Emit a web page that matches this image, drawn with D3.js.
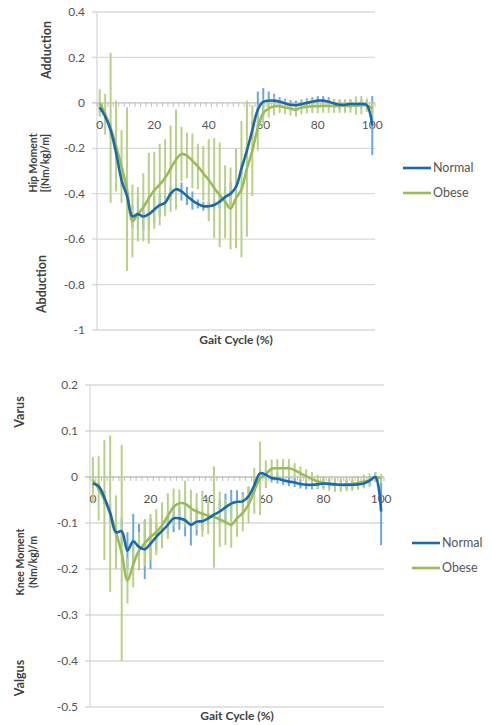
<!DOCTYPE html>
<html>
<head>
<meta charset="utf-8">
<script src="https://cdn.jsdelivr.net/npm/d3@7"></script>
<style>
  body { margin: 0; background: #fff; }
  svg { display: block; font-family: Lato, "Open Sans", "Liberation Sans", sans-serif; }
</style>
</head>
<body>
<svg id="chart" width="492" height="725"></svg>
<script>
// Gait cycle categories (% of stride)
const gaitPct = [0, 2, 4, 6, 8, 10, 12, 14, 16, 18, 20, 22, 24, 26, 28, 30, 32, 34, 36, 38,
  40, 42, 44, 46, 48, 50, 52, 54, 56, 58, 60, 62, 64, 66, 68, 70, 72, 74, 76, 78,
  80, 82, 84, 86, 88, 90, 92, 94, 96, 98, 100];
const xTickLabels = [0, 20, 40, 60, 80, 100];
const hipTicks = [0.4, 0.2, 0, -0.2, -0.4, -0.6, -0.8, -1];
const kneeTicks = [0.2, 0.1, 0, -0.1, -0.2, -0.3, -0.4, -0.5];
const seriesNames = ["Normal", "Obese"];

// Hip frontal-plane moment, (Nm/kg)/m — mean and SD
const hipNormal = [-0.02, -0.06, -0.12, -0.22, -0.34, -0.41, -0.50, -0.49, -0.50, -0.49,
  -0.47, -0.45, -0.44, -0.40, -0.38, -0.39, -0.41, -0.43, -0.445, -0.455,
  -0.455, -0.45, -0.435, -0.415, -0.40, -0.37, -0.29, -0.21, -0.12, -0.03,
  0.005, 0.01, 0.01, 0.005, -0.002, -0.008, -0.01, -0.005, 0.0, 0.005,
  0.01, 0.01, 0.005, -0.003, -0.008, -0.008, -0.005, -0.005, -0.005, -0.01,
  -0.10];
const hipNormalSD = [0.02, 0.02, 0.03, 0.03, 0.03, 0.04, 0.05, 0.07, 0.06, 0.07,
  0.06, 0.05, 0.03, 0.03, 0.04, 0.04, 0.04, 0.04, 0.02, 0.02,
  0.02, 0.02, 0.03, 0.05, 0.05, 0.04, 0.03, 0.03, 0.04, 0.08,
  0.06, 0.04, 0.03, 0.02, 0.02, 0.02, 0.02, 0.02, 0.02, 0.02,
  0.02, 0.02, 0.02, 0.02, 0.02, 0.02, 0.02, 0.02, 0.02, 0.02,
  0.13];
const hipObese = [0.0, -0.05, -0.11, -0.19, -0.28, -0.38, -0.52, -0.49, -0.46, -0.42,
  -0.385, -0.36, -0.33, -0.29, -0.25, -0.225, -0.232, -0.255, -0.28, -0.31,
  -0.34, -0.375, -0.405, -0.435, -0.465, -0.42, -0.38, -0.29, -0.21, -0.11,
  -0.045, -0.025, -0.015, -0.015, -0.02, -0.025, -0.03, -0.02, -0.017, -0.015,
  -0.015, -0.014, -0.014, -0.014, -0.014, -0.014, -0.013, -0.012, -0.01, -0.01,
  -0.025];
const hipObeseSD = [0.06, 0.09, 0.33, 0.2, 0.16, 0.36, 0.16, 0.12, 0.15, 0.2,
  0.17, 0.18, 0.17, 0.19, 0.22, 0.12, 0.1, 0.12, 0.1, 0.12,
  0.18, 0.22, 0.23, 0.16, 0.18, 0.22, 0.3, 0.3, 0.2, 0.1,
  0.06, 0.04, 0.04, 0.03, 0.03, 0.03, 0.03, 0.03, 0.03, 0.03,
  0.03, 0.03, 0.03, 0.03, 0.03, 0.03, 0.03, 0.04, 0.04, 0.03,
  0.03];

// Knee frontal-plane moment, (Nm/kg)/m — mean and SD
const kneeNormal = [-0.014, -0.02, -0.045, -0.078, -0.12, -0.118, -0.16, -0.14, -0.152, -0.157,
  -0.145, -0.13, -0.117, -0.104, -0.09, -0.09, -0.094, -0.104, -0.097, -0.096,
  -0.09, -0.082, -0.075, -0.066, -0.058, -0.054, -0.053, -0.042, -0.018, 0.008,
  0.005, -0.002, -0.004, -0.007, -0.01, -0.012, -0.015, -0.017, -0.017, -0.016,
  -0.014, -0.015, -0.016, -0.017, -0.017, -0.017, -0.016, -0.014, -0.008, 0.0,
  -0.075];
const kneeNormalSD = [0.01, 0.01, 0.015, 0.02, 0.02, 0.03, 0.04, 0.06, 0.05, 0.065,
  0.055, 0.03, 0.025, 0.02, 0.03, 0.025, 0.035, 0.045, 0.03, 0.02,
  0.015, 0.02, 0.025, 0.03, 0.03, 0.025, 0.02, 0.02, 0.015, 0.01,
  0.01, 0.01, 0.01, 0.01, 0.01, 0.01, 0.01, 0.01, 0.01, 0.01,
  0.01, 0.01, 0.01, 0.01, 0.01, 0.01, 0.01, 0.01, 0.01, 0.01,
  0.073];
const kneeObese = [-0.007, -0.025, -0.05, -0.08, -0.12, -0.165, -0.225, -0.19, -0.16, -0.144,
  -0.13, -0.12, -0.105, -0.085, -0.065, -0.057, -0.058, -0.068, -0.075, -0.08,
  -0.084, -0.087, -0.092, -0.098, -0.104, -0.09, -0.078, -0.06, -0.03, -0.003,
  0.006, 0.018, 0.019, 0.019, 0.019, 0.015, 0.008, 0.002, -0.004, -0.01,
  -0.013, -0.015, -0.017, -0.017, -0.016, -0.015, -0.013, -0.01, -0.007, 0.0,
  -0.003];
const kneeObeseSD = [0.05, 0.07, 0.13, 0.17, 0.08, 0.235, 0.05, 0.05, 0.04, 0.05,
  0.05, 0.05, 0.05, 0.05, 0.04, 0.03, 0.05, 0.04, 0.04, 0.05,
  0.04, 0.11, 0.06, 0.05, 0.05, 0.04, 0.04, 0.04, 0.05, 0.08,
  0.03, 0.02, 0.02, 0.02, 0.02, 0.015, 0.015, 0.015, 0.015, 0.015,
  0.015, 0.015, 0.015, 0.015, 0.015, 0.015, 0.015, 0.015, 0.015, 0.01,
  0.01];

const colors = {
  normalLine: "#1c68ab", normalBar: "#6ea6da",
  obeseLine: "#9bbb59", obeseBar: "#b8d087",
  grid: "#d9d9d9", axis: "#bfbfbf", text: "#555555", title: "#404040"
};

const svg = d3.select("#chart");

function fmtTick(d) {
  return d === 0 ? "0" : String(+d.toFixed(1));
}

function drawPanel(cfg) {
  const g = svg.append("g");
  const x = d3.scalePoint().domain(gaitPct).range([cfg.left, cfg.right]).padding(0.5);
  const band = d3.scaleBand().domain(gaitPct).range([cfg.left, cfg.right]);
  const y = d3.scaleLinear().domain(cfg.yDomain).range([cfg.bottom, cfg.top]);

  // horizontal gridlines
  g.selectAll("line.grid").data(cfg.yTicks.filter(d => d !== 0)).join("line")
    .attr("x1", cfg.left - 5).attr("x2", cfg.right)
    .attr("y1", d => y(d)).attr("y2", d => y(d))
    .attr("stroke", colors.grid).attr("stroke-width", 1.3);

  // vertical value axis
  g.append("line")
    .attr("x1", cfg.left).attr("x2", cfg.left)
    .attr("y1", y(cfg.yDomain[1])).attr("y2", y(cfg.yDomain[0]))
    .attr("stroke", colors.grid).attr("stroke-width", 1.3);

  // value tick labels
  g.selectAll("text.ytick").data(cfg.yTicks).join("text")
    .attr("x", cfg.left - 12).attr("y", d => y(d))
    .attr("dy", "0.35em").attr("text-anchor", "end")
    .attr("font-size", 12).attr("fill", colors.text)
    .text(fmtTick);

  // category axis crossing at zero, with tick marks between categories
  const y0 = y(0);
  g.append("line")
    .attr("x1", cfg.left - 5).attr("x2", cfg.right)
    .attr("y1", y0).attr("y2", y0)
    .attr("stroke", colors.axis).attr("stroke-width", 1.3);
  const bounds = gaitPct.map(p => band(p)).concat([cfg.right]);
  g.selectAll("line.xtick").data(bounds).join("line")
    .attr("x1", d => d).attr("x2", d => d)
    .attr("y1", y0).attr("y2", y0 + 4)
    .attr("stroke", colors.axis).attr("stroke-width", 1);

  // category labels
  g.selectAll("text.xtick").data(xTickLabels).join("text")
    .attr("x", d => x(d)).attr("y", y0 + 26)
    .attr("text-anchor", "middle")
    .attr("font-size", 12).attr("fill", colors.text)
    .text(d => d);

  // error bars (mean ± SD)
  const series = [
    { mean: cfg.normal, sd: cfg.normalSD, bar: colors.normalBar, line: colors.normalLine },
    { mean: cfg.obese, sd: cfg.obeseSD, bar: colors.obeseBar, line: colors.obeseLine }
  ];
  series.forEach(s => {
    g.append("g").selectAll("line").data(gaitPct).join("line")
      .attr("x1", d => x(d)).attr("x2", d => x(d))
      .attr("y1", (d, i) => y(s.mean[i] + s.sd[i]))
      .attr("y2", (d, i) => y(s.mean[i] - s.sd[i]))
      .attr("stroke", s.bar).attr("stroke-width", 2);
  });

  // smoothed mean curves
  const line = d3.line()
    .x((d, i) => x(gaitPct[i]))
    .y(d => y(d))
    .curve(d3.curveCatmullRom.alpha(0.5));
  [series[1], series[0]].forEach(s => {
    g.append("path").datum(s.mean)
      .attr("d", line)
      .attr("fill", "none")
      .attr("stroke", s.line).attr("stroke-width", 2.6)
      .attr("stroke-linejoin", "round");
  });

  // legend
  const lg = g.append("g");
  seriesNames.forEach((name, i) => {
    const ly = cfg.legendY + i * 25;
    lg.append("line")
      .attr("x1", cfg.legendX).attr("x2", cfg.legendX + 28)
      .attr("y1", ly).attr("y2", ly)
      .attr("stroke", series[i].line).attr("stroke-width", 2.6);
    lg.append("text")
      .attr("x", cfg.legendX + 30).attr("y", ly).attr("dy", "0.35em")
      .attr("font-size", 12.5).attr("fill", colors.text)
      .text(name);
  });

  // axis titles
  g.append("text")
    .attr("x", (cfg.left + cfg.right) / 2).attr("y", cfg.xTitleY)
    .attr("text-anchor", "middle").attr("dy", "0.35em")
    .attr("font-size", 12).attr("font-weight", "bold").attr("fill", colors.title)
    .text("Gait Cycle (%)");

  cfg.yTitles.forEach(t => {
    g.append("text")
      .attr("transform", `translate(${t.x},${t.y}) rotate(-90)`)
      .attr("text-anchor", "middle").attr("dy", "0.35em")
      .attr("font-size", t.size).attr("font-weight", "bold").attr("fill", colors.title)
      .text(t.text);
  });
}

drawPanel({
  left: 97, right: 375, top: 12, bottom: 330,
  yDomain: [-1, 0.4], yTicks: hipTicks,
  normal: hipNormal, normalSD: hipNormalSD,
  obese: hipObese, obeseSD: hipObeseSD,
  legendX: 403, legendY: 168, xTitleY: 340,
  yTitles: [
    { text: "Hip Moment", x: 33, y: 163, size: 10.5 },
    { text: "[(Nm/kg)/m]", x: 45, y: 163, size: 10.5 },
    { text: "Adduction", x: 47, y: 50, size: 12.5 },
    { text: "Abduction", x: 42, y: 284, size: 12.5 }
  ]
});

drawPanel({
  left: 90, right: 384, top: 385, bottom: 707,
  yDomain: [-0.5, 0.2], yTicks: kneeTicks,
  normal: kneeNormal, normalSD: kneeNormalSD,
  obese: kneeObese, obeseSD: kneeObeseSD,
  legendX: 412, legendY: 543, xTitleY: 716,
  yTitles: [
    { text: "Knee Moment", x: 20, y: 562, size: 10.5 },
    { text: "(Nm/kg)/m", x: 33, y: 562, size: 10.5 },
    { text: "Varus", x: 20, y: 412, size: 12.5 },
    { text: "Valgus", x: 20, y: 678, size: 12.5 }
  ]
});
</script>
</body>
</html>
